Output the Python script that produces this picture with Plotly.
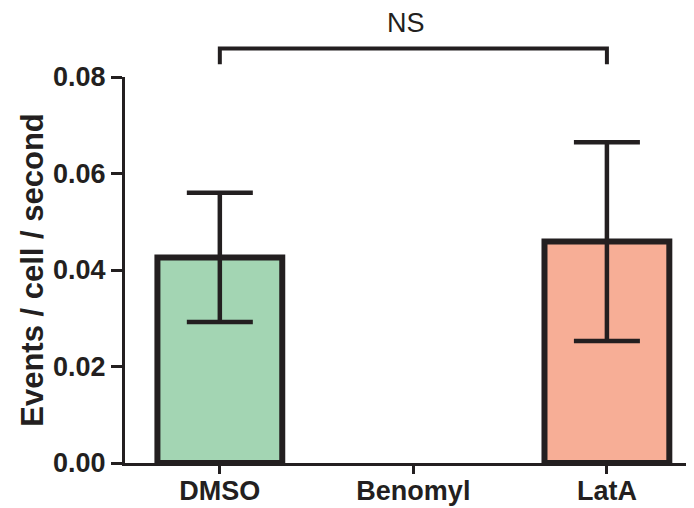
import plotly.graph_objects as go

categories = ["DMSO", "Benomyl", "LatA"]
values = [0.0426, None, 0.0459]
errors = [0.0134, None, 0.0206]
colors = ["#a3d5b3", "#ffffff", "#f7ae96"]
y_ticks = [0.00, 0.02, 0.04, 0.06, 0.08]
y_tick_labels = ["0.00", "0.02", "0.04", "0.06", "0.08"]
sig_pair = ("DMSO", "LatA")
sig_label = "NS"

INK = "#231f20"
FONT = "Liberation Sans, Arial, Helvetica, sans-serif"

fig = go.Figure()
fig.add_trace(go.Bar(
    x=categories, y=values,
    width=0.645,
    marker=dict(color=colors, line=dict(color=INK, width=6)),
    error_y=dict(type="data", array=errors, visible=True,
                 color=INK, thickness=4.5, width=33),
    showlegend=False,
))
# invisible trace on a second x axis that only draws the tick marks
fig.add_trace(go.Scatter(x=categories, y=[0, 0, 0], xaxis="x2", yaxis="y",
                         mode="none", showlegend=False, hoverinfo="skip"))

# significance bracket (x positions from category indices)
i0 = categories.index(sig_pair[0])
i1 = categories.index(sig_pair[1])
y_top = 1.074
y_foot = 1.033
fig.add_shape(type="path",
              path=f"M {i0},{y_foot} L {i0},{y_top} L {i1},{y_top} L {i1},{y_foot}",
              xref="x", yref="paper",
              line=dict(color=INK, width=4))
fig.add_annotation(x=(i0 + i1) / 2 - 0.04, y=1.14, xref="x", yref="paper",
                   text=sig_label, showarrow=False,
                   font=dict(family=FONT, size=27, color=INK),
                   xanchor="center", yanchor="middle")

# page body has an 8px default margin, so the figure is 8px smaller
fig.update_layout(
    width=686, height=500,
    margin=dict(l=117, r=0, t=69, b=45, autoexpand=False),
    paper_bgcolor="white", plot_bgcolor="white",
    font=dict(family=FONT, color=INK),
    bargap=0.3,
    xaxis=dict(
        range=[-0.49, 2.45], automargin=False,
        showline=True, linecolor=INK, linewidth=3,
        ticks="outside", ticklen=2, tickwidth=3, tickcolor="rgba(0,0,0,0)",
        tickfont=dict(family=FONT, size=27, color=INK, weight="bold"),
        showgrid=False, zeroline=False,
    ),
    xaxis2=dict(overlaying="x", anchor="y", side="bottom",
                range=[-0.49, 2.45], automargin=False,
                showline=False, ticks="outside", ticklen=10, tickwidth=3,
                tickcolor=INK, showticklabels=False,
                showgrid=False, zeroline=False),
    yaxis=dict(
        range=[0, 0.08], automargin=False,
        tickvals=y_ticks, ticktext=y_tick_labels,
        showline=True, linecolor=INK, linewidth=3,
        ticks="outside", ticklen=11, tickwidth=3, tickcolor=INK,
        tickfont=dict(family=FONT, size=27, color=INK, weight="bold"),
        showgrid=False, zeroline=False,
        title=dict(text="Events / cell / second",
                   font=dict(family=FONT, size=31, color=INK, weight="bold"),
                   standoff=1),
    ),
)

fig.write_html("out.html")
